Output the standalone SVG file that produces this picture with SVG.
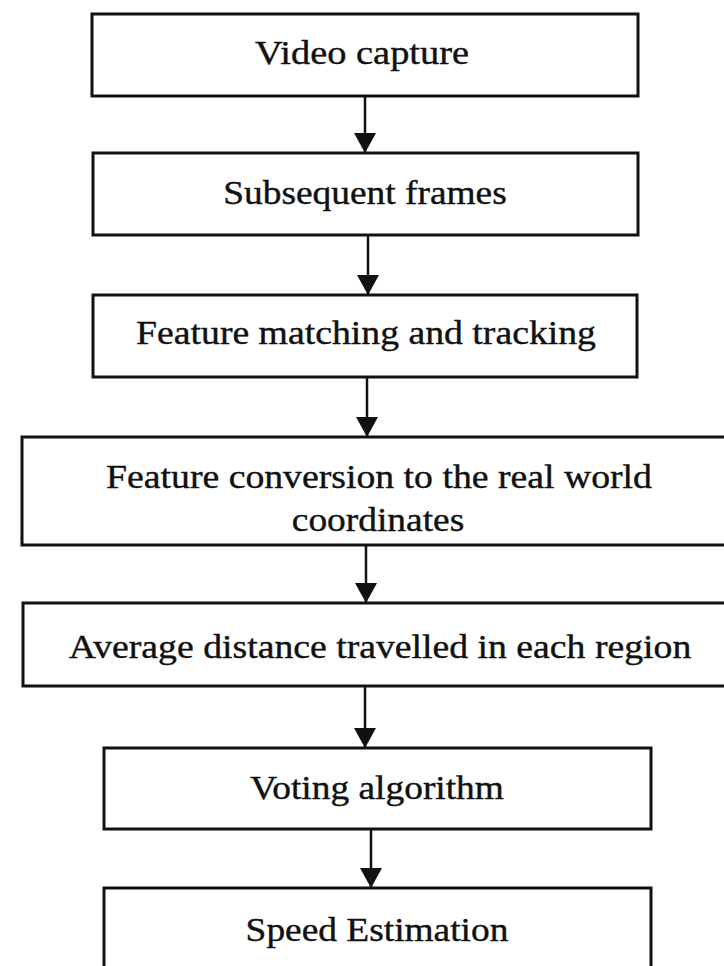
<svg xmlns="http://www.w3.org/2000/svg" width="724" height="966" viewBox="0 0 724 966">
<defs>
<style>
.box{fill:#fff;stroke:#111;stroke-width:3}
.lbl{font-family:"Liberation Serif","Times New Roman",serif;font-size:34px;fill:#111;stroke:#111;stroke-width:0.4;text-anchor:middle}
.conn{stroke:#111;stroke-width:2.5;fill:none;marker-end:url(#ah)}
</style>
<marker id="ah" markerUnits="userSpaceOnUse" viewBox="0 0 20 22" refX="20" refY="11" markerWidth="20" markerHeight="22" orient="auto">
<path d="M0,0 L20,11 L0,22 z" fill="#111"/>
</marker>
</defs>
<rect width="724" height="966" fill="#fff"/>
<g id="connectors">
<line class="conn" x1="365" y1="96" x2="365" y2="153"/>
<line class="conn" x1="368" y1="235" x2="368" y2="295"/>
<line class="conn" x1="367" y1="377" x2="367" y2="437"/>
<line class="conn" x1="366" y1="545" x2="366" y2="603"/>
<line class="conn" x1="365" y1="686" x2="365" y2="748"/>
<line class="conn" x1="371" y1="829" x2="371" y2="888"/>
</g>
<g id="n1">
<rect class="box" x="92" y="14" width="546" height="82"/>
<text class="lbl" transform="translate(362,64) scale(1.13,1)">Video capture</text>
</g>
<g id="n2">
<rect class="box" x="93" y="153" width="545" height="82"/>
<text class="lbl" transform="translate(365,204) scale(1.1,1)">Subsequent frames</text>
</g>
<g id="n3">
<rect class="box" x="93" y="295" width="544" height="82"/>
<text class="lbl" transform="translate(366,344) scale(1.11,1)">Feature matching and tracking</text>
</g>
<g id="n4">
<rect class="box" x="22" y="437" width="712" height="108"/>
<text class="lbl" transform="translate(379,488) scale(1.11,1)">Feature conversion to the real world</text>
<text class="lbl" transform="translate(378,531) scale(1.1,1)">coordinates</text>
</g>
<g id="n5">
<rect class="box" x="23" y="603" width="711" height="83"/>
<text class="lbl" transform="translate(380,658) scale(1.11,1)">Average distance travelled in each region</text>
</g>
<g id="n6">
<rect class="box" x="104" y="748" width="547" height="81"/>
<text class="lbl" transform="translate(377,799) scale(1.1,1)">Voting algorithm</text>
</g>
<g id="n7">
<rect class="box" x="104" y="888" width="547" height="90"/>
<text class="lbl" transform="translate(377,941) scale(1.1,1)">Speed Estimation</text>
</g>
</svg>
